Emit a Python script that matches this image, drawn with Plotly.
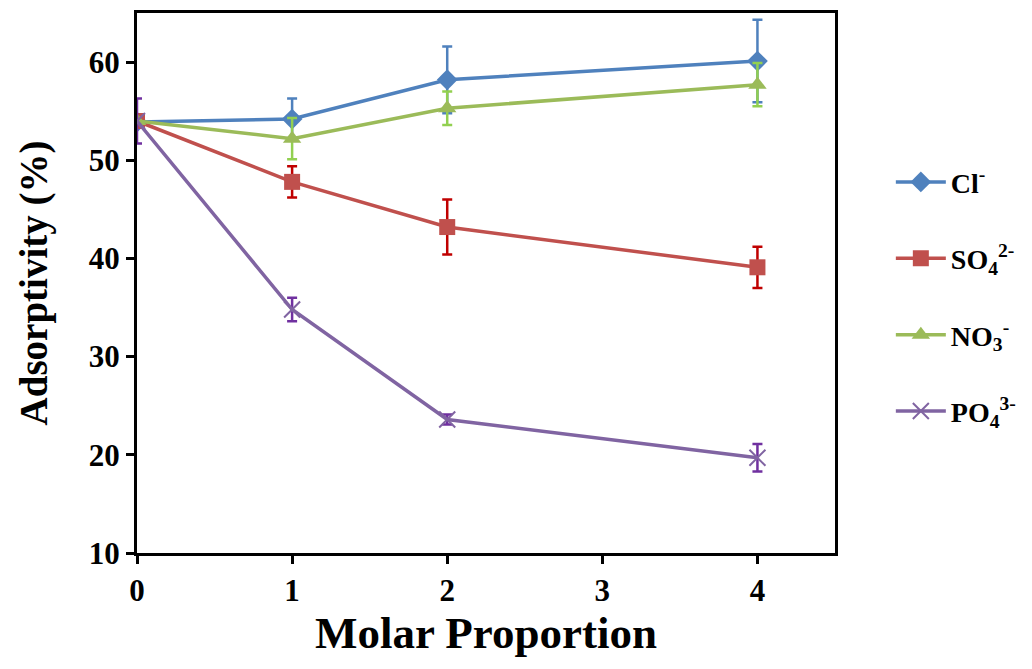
import plotly.graph_objects as go

x_vals = [0, 1, 2, 4]
series_names = ["Cl<sup>-</sup>", "SO<sub>4</sub><sup>2-</sup>", "NO<sub>3</sub><sup>-</sup>", "PO<sub>4</sub><sup>3-</sup>"]
cl_vals = [53.9, 54.2, 58.2, 60.1]
cl_err = [0.0, 2.1, 3.4, 4.2]
so4_vals = [54.0, 47.8, 43.2, 39.1]
so4_err = [0.0, 1.6, 2.8, 2.1]
no3_vals = [54.0, 52.2, 55.3, 57.7]
no3_err = [0.0, 2.1, 1.7, 2.2]
po4_vals = [54.0, 34.8, 23.6, 19.7]
po4_err = [2.3, 1.2, 0.5, 1.4]

x_ticks = [0, 1, 2, 3, 4]
y_ticks = [10, 20, 30, 40, 50, 60]

line_colors = ["#4F81BD", "#C0504D", "#9BBB59", "#8064A2"]
err_colors = ["#4F81BD", "#C00000", "#92D050", "#7030A0"]
symbols = ["diamond", "square", "triangle-up", "x-thin-open"]
values = [cl_vals, so4_vals, no3_vals, po4_vals]
errors = [cl_err, so4_err, no3_err, po4_err]

fig = go.Figure()
for i in range(4):
    marker = dict(symbol=symbols[i], size=16, color=line_colors[i])
    if symbols[i] == "x-thin-open":
        marker = dict(symbol=symbols[i], size=16, color=line_colors[i],
                      line=dict(color=line_colors[i], width=2))
    fig.add_trace(go.Scatter(
        x=x_vals, y=values[i], name=series_names[i], mode="lines+markers",
        line=dict(color=line_colors[i], width=3.5),
        marker=marker,
        legendgroup="g%d" % i,
        error_y=dict(type="data", array=errors[i], visible=True,
                     color=err_colors[i], thickness=2.5, width=5),
    ))

font_family = "Liberation Serif, Times New Roman, serif"
fig.update_layout(
    width=1032, height=669,
    margin=dict(l=137, r=196, t=10, b=116),
    paper_bgcolor="white", plot_bgcolor="white",
    font=dict(family=font_family, color="black"),
    showlegend=True,
    legend=dict(x=1.08, y=0.733, xanchor="left", yanchor="top",
                traceorder="grouped", tracegroupgap=37,
                font=dict(family=font_family, size=28, color="black", weight="bold"),
                itemwidth=50),
    xaxis=dict(range=[0, 4.5], tickvals=x_ticks, ticktext=[str(t) for t in x_ticks],
               showline=True, linecolor="black", linewidth=3, mirror=True,
               ticks="outside", ticklen=8, tickwidth=3, tickcolor="black",
               showgrid=False, zeroline=False,
               tickfont=dict(size=31, family=font_family, weight="bold"),
               title=dict(text="Molar Proportion", standoff=6,
                          font=dict(size=45, family=font_family, weight="bold"))),
    yaxis=dict(range=[10, 65], tickvals=y_ticks,
               showline=True, linecolor="black", linewidth=3, mirror=True,
               ticks="outside", ticklen=8, tickwidth=3, tickcolor="black",
               showgrid=False, zeroline=False,
               tickfont=dict(size=31, family=font_family, weight="bold"),
               title=dict(text="Adsorptivity (%)", standoff=30,
                          font=dict(size=39, family=font_family, weight="bold"))),
)

fig.write_html("out.html")
